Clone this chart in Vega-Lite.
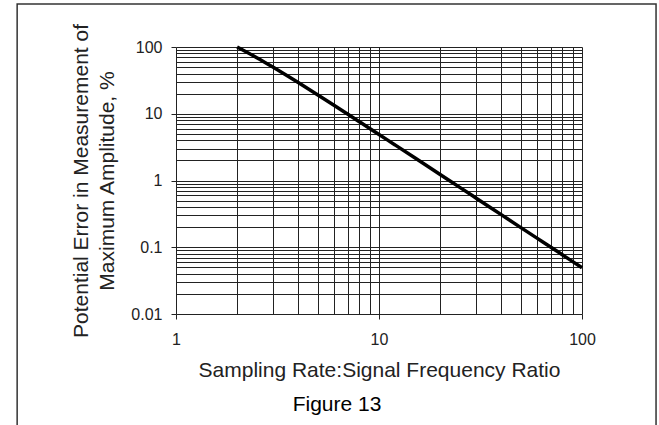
{
  "$schema": "https://vega.github.io/schema/vega-lite/v6.json",
  "width": 406,
  "height": 267,
  "autosize": {"type": "none"},
  "padding": {"left": 176, "top": 47, "right": 77, "bottom": 111},
  "background": "white",
  "config": {"view": {"stroke": null}, "font": "Liberation Sans"},
  "title": {
    "text": "Figure 13",
    "orient": "bottom",
    "anchor": "middle",
    "frame": "group",
    "dx": -42,
    "offset": -54,
    "fontSize": 21,
    "fontWeight": "normal",
    "color": "#000",
    "font": "Liberation Sans"
  },
  "data": {
    "values": [
      {"ratio": 2, "error": 100},
      {"ratio": 2.5, "error": 69.1},
      {"ratio": 3, "error": 50},
      {"ratio": 3.5, "error": 37.7},
      {"ratio": 4, "error": 29.3},
      {"ratio": 5, "error": 19.1},
      {"ratio": 6, "error": 13.4},
      {"ratio": 7, "error": 9.9},
      {"ratio": 8, "error": 7.61},
      {"ratio": 9, "error": 6.03},
      {"ratio": 10, "error": 4.89},
      {"ratio": 12, "error": 3.41},
      {"ratio": 15, "error": 2.19},
      {"ratio": 20, "error": 1.23},
      {"ratio": 25, "error": 0.789},
      {"ratio": 30, "error": 0.548},
      {"ratio": 40, "error": 0.308},
      {"ratio": 50, "error": 0.197},
      {"ratio": 60, "error": 0.137},
      {"ratio": 70, "error": 0.101},
      {"ratio": 80, "error": 0.0771},
      {"ratio": 90, "error": 0.0609},
      {"ratio": 100, "error": 0.0493}
    ]
  },
  "layer": [
    {
      "data": {"values": [{"frame": "border"}]},
      "mark": {"type": "rect", "fill": null, "stroke": "#333", "strokeWidth": 1.5},
      "encoding": {
        "x": {"datum": 0.165, "type": "quantitative", "scale": {"type": "log", "domain": [1, 100]}},
        "x2": {"datum": 231.6},
        "y": {"datum": 440, "type": "quantitative", "scale": {"type": "log", "domain": [0.01, 100]}},
        "y2": {"datum": 0.0001}
      }
    },
    {
      "mark": {"type": "line", "color": "#000", "strokeWidth": 3.5, "interpolate": "monotone"},
      "encoding": {
        "x": {
          "field": "ratio",
          "type": "quantitative",
          "scale": {"type": "log", "domain": [1, 100]},
          "axis": {
            "title": "Sampling Rate:Signal Frequency Ratio",
            "values": [1, 2, 3, 4, 5, 6, 7, 8, 9, 10, 20, 30, 40, 50, 60, 70, 80, 90, 100],
            "format": "~g",
            "labelExpr": "indexof([1,10,100], datum.value) >= 0 ? datum.label : ''",
            "tickOpacity": {"condition": {"test": "indexof([1,10,100], datum.value) >= 0", "value": 1}, "value": 0},
            "tickSize": 5,
            "tickColor": "#222",
            "domain": false,
            "grid": true,
            "gridColor": "#222",
            "gridOpacity": 1,
            "gridWidth": 1,
            "labelFontSize": 16,
            "labelColor": "#222",
            "labelPadding": 12,
            "labelFlush": false,
            "labelOverlap": false,
            "titleFontSize": 21,
            "titleFontWeight": "normal",
            "titleColor": "#222",
            "titlePadding": 12
          }
        },
        "y": {
          "field": "error",
          "type": "quantitative",
          "scale": {"type": "log", "domain": [0.01, 100]},
          "axis": {
            "title": ["Potential Error in Measurement of", "Maximum Amplitude, %"],
            "values": [0.01, 0.02, 0.03, 0.04, 0.05, 0.06, 0.07, 0.08, 0.09, 0.1, 0.2, 0.3, 0.4, 0.5, 0.6, 0.7, 0.8, 0.9, 1, 2, 3, 4, 5, 6, 7, 8, 9, 10, 20, 30, 40, 50, 60, 70, 80, 90, 100],
            "format": "~g",
            "labelExpr": "indexof([0.01,0.1,1,10,100], datum.value) >= 0 ? datum.label : ''",
            "tickOpacity": {"condition": {"test": "indexof([0.01,0.1,1,10,100], datum.value) >= 0", "value": 1}, "value": 0},
            "tickSize": 5,
            "tickColor": "#222",
            "domain": false,
            "grid": true,
            "gridColor": "#222",
            "gridOpacity": 1,
            "gridWidth": 1,
            "labelFontSize": 16,
            "labelColor": "#222",
            "labelPadding": 9,
            "labelFlush": false,
            "labelOverlap": false,
            "titleFontSize": 21,
            "titleFontWeight": "normal",
            "titleColor": "#222",
            "titleLineHeight": 26,
            "titlePadding": 13
          }
        }
      }
    }
  ]
}
